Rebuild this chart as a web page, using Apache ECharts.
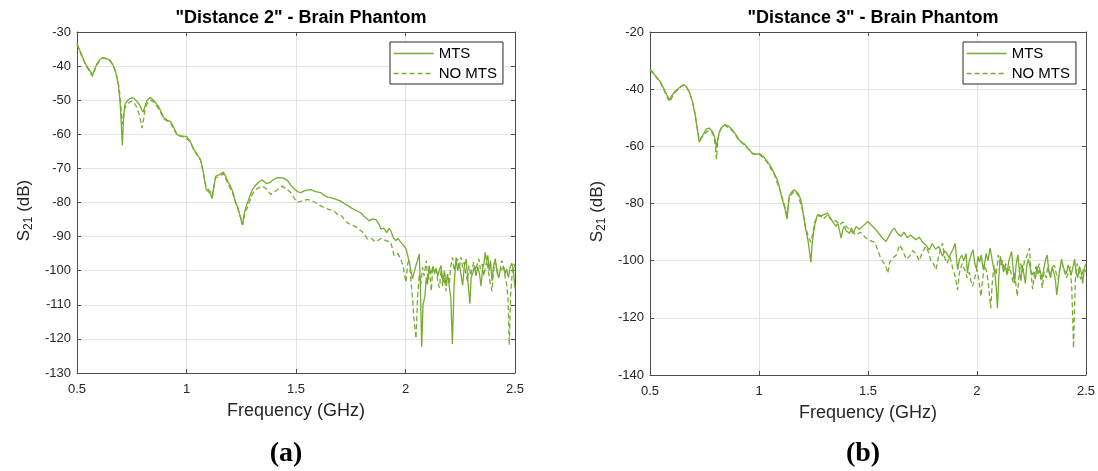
<!DOCTYPE html>
<html>
<head>
<meta charset="utf-8">
<script src="https://cdn.jsdelivr.net/npm/echarts@6/dist/echarts.min.js"></script>
<style>html,body{margin:0;padding:0;background:#fff}#c{width:1098px;height:471px}</style>
</head>
<body>
<div id="c"></div>
<script>
// ---------- data (frequency GHz, S21 dB) ----------
const titles = ['"Distance 2" - Brain Phantom', '"Distance 3" - Brain Phantom'];
const seriesNames = ['MTS', 'NO MTS'];
const panelLabels = ['a', 'b'];
const xTicks = [0.5, 2.5, 0.5];           // min, max, interval
const leftYTicks = [-130, -30, 10];
const rightYTicks = [-140, -20, 20];

const leftMTS = [
[0.50,-33.4],[0.52,-36.5],[0.54,-39.5],[0.56,-41.5],[0.571,-42.6],[0.58,-41.0],[0.59,-39.5],[0.605,-38.0],[0.619,-37.5],[0.635,-37.8],
[0.652,-38.3],[0.665,-39.8],[0.675,-41.2],[0.683,-43.5],[0.69,-46.0],[0.697,-51],[0.703,-58],[0.707,-63.3],[0.712,-56],[0.717,-52],
[0.721,-50.9],[0.735,-49.8],[0.748,-49.3],[0.759,-49.4],[0.772,-50.2],[0.786,-51.4],[0.795,-52.8],[0.802,-53.5],[0.81,-51.8],[0.82,-50.0],
[0.835,-49.2],[0.85,-50.0],[0.862,-51.0],[0.873,-51.9],[0.885,-53.5],[0.895,-55.0],[0.904,-55.5],[0.915,-56.0],[0.927,-56.2],[0.94,-57.8],
[0.957,-60.1],[0.975,-60.5],[0.99,-60.6],[1.0,-60.6],[1.015,-61.8],[1.034,-64.5],[1.05,-66.0],[1.064,-67.4],[1.072,-69.5],[1.079,-72.3],
[1.085,-74.5],[1.09,-76.2],[1.10,-76.8],[1.11,-77.5],[1.117,-78.9],[1.125,-75.5],[1.133,-72.3],[1.145,-72.0],[1.158,-71.5],[1.168,-71.1],
[1.18,-72.5],[1.19,-74.0],[1.201,-75.2],[1.212,-77.0],[1.224,-80.0],[1.235,-81.5],[1.245,-84.0],[1.255,-86.6],[1.262,-84.0],[1.27,-81.5],
[1.278,-81.0],[1.29,-78.0],[1.301,-76.2],[1.315,-75.0],[1.33,-74.0],[1.346,-73.4],[1.356,-74.0],[1.366,-74.4],[1.38,-74.2],[1.395,-73.4],
[1.415,-72.7],[1.44,-72.8],[1.461,-73.5],[1.476,-74.9],[1.49,-75.8],[1.506,-76.8],[1.522,-77.1],[1.54,-76.5],[1.555,-76.3],[1.567,-76.2],
[1.59,-76.8],[1.613,-77.1],[1.63,-78.0],[1.645,-78.4],[1.659,-78.6],[1.68,-79.0],[1.704,-79.6],[1.725,-80.5],[1.74,-81.0],[1.75,-81.5],
[1.77,-82.2],[1.796,-83.0],[1.81,-84.0],[1.822,-84.6],[1.834,-85.4],[1.85,-84.8],[1.865,-85.0],[1.872,-84.9],[1.88,-86.5],[1.888,-87.8],
[1.90,-87.5],[1.915,-88.8],[1.925,-87.6],[1.933,-88.3],[1.945,-90.5],[1.956,-91.2],[1.965,-90.5],[1.979,-91.7],[1.99,-92.5],[2.002,-93.6],
[2.01,-95.5],[2.017,-95.1],[2.025,-100.0],[2.032,-102.4],[2.045,-99.0],[2.055,-97.0],[2.063,-95.1],[2.068,-105.0],[2.074,-122.3],[2.08,-110.0],
[2.089,-107.3],[2.095,-102.0],[2.10,-104.0],[2.108,-98.5],[2.115,-101.0],[2.125,-99.0],[2.132,-100.5],[2.139,-99.5],[2.148,-101.5],[2.155,-99.8],
[2.162,-98.5],[2.17,-103.0],[2.178,-100.0],[2.185,-104.3],[2.192,-101.0],[2.20,-100.5],[2.207,-108.0],[2.214,-121.5],[2.222,-104.0],[2.231,-96.1],
[2.238,-100.0],[2.245,-98.0],[2.253,-101.0],[2.261,-104.3],[2.268,-99.0],[2.277,-96.6],[2.285,-103.0],[2.294,-109.7],[2.30,-102.0],[2.308,-100.5],
[2.315,-98.5],[2.322,-101.5],[2.33,-98.8],[2.338,-101.0],[2.345,-104.5],[2.352,-99.5],[2.358,-98.0],[2.364,-94.6],[2.37,-97.0],[2.376,-95.5],
[2.382,-100.0],[2.388,-97.0],[2.395,-103.0],[2.402,-98.5],[2.41,-96.5],[2.418,-100.5],[2.425,-102.0],[2.432,-100.0],[2.44,-100.5],[2.448,-99.0],
[2.455,-101.0],[2.462,-99.5],[2.47,-102.0],[2.478,-99.0],[2.485,-97.8],[2.492,-99.5],[2.50,-105.3]
];

const leftNoMTS = [
[0.50,-33.6],[0.52,-36.8],[0.54,-39.8],[0.56,-41.8],[0.571,-43.0],[0.58,-41.3],[0.59,-39.8],[0.605,-38.2],[0.619,-37.6],[0.635,-37.9],
[0.652,-38.5],[0.665,-40.0],[0.675,-41.5],[0.683,-43.5],[0.69,-45.5],[0.697,-49],[0.703,-54],[0.707,-57.0],[0.712,-55],[0.717,-53],
[0.721,-52.0],[0.735,-50.8],[0.748,-50.3],[0.759,-50.5],[0.772,-52.0],[0.786,-54.5],[0.792,-56.5],[0.797,-58.2],[0.803,-56.0],[0.81,-53.0],
[0.82,-51.0],[0.835,-50.0],[0.85,-50.5],[0.862,-51.5],[0.873,-52.5],[0.885,-54.0],[0.895,-55.5],[0.904,-56.0],[0.927,-56.5],[0.957,-60.3],
[0.99,-60.8],[1.015,-62.0],[1.034,-64.7],[1.064,-67.6],[1.079,-72.0],[1.09,-75.5],[1.11,-77.0],[1.117,-78.0],[1.125,-75.0],[1.133,-72.8],
[1.158,-72.0],[1.168,-71.5],[1.19,-74.5],[1.212,-77.5],[1.235,-82.0],[1.25,-85.0],[1.258,-86.5],[1.266,-83.0],[1.278,-81.5],[1.301,-77.5],
[1.32,-76.0],[1.346,-75.2],[1.365,-76.0],[1.384,-77.6],[1.40,-77.0],[1.438,-75.2],[1.455,-76.0],[1.476,-77.1],[1.49,-78.5],[1.506,-80.0],
[1.53,-79.5],[1.552,-79.1],[1.575,-79.5],[1.60,-80.5],[1.628,-81.5],[1.65,-82.0],[1.674,-82.5],[1.69,-83.5],[1.71,-84.0],[1.72,-85.0],
[1.735,-85.9],[1.75,-86.5],[1.77,-87.0],[1.796,-88.3],[1.81,-89.0],[1.826,-90.7],[1.845,-90.5],[1.86,-91.5],[1.872,-91.2],[1.89,-90.5],
[1.91,-91.2],[1.933,-91.7],[1.948,-95.6],[1.965,-95.0],[1.979,-96.6],[1.99,-99],[2.002,-103.4],[2.01,-98],[2.017,-96.6],[2.025,-103],
[2.032,-108],[2.037,-113.1],[2.048,-119.9],[2.055,-108],[2.063,-101],[2.07,-104],[2.078,-99],[2.085,-101.5],[2.095,-97.0],[2.102,-103],
[2.11,-100.0],[2.118,-106],[2.125,-98.5],[2.132,-101],[2.14,-99],[2.148,-103.5],[2.155,-105],[2.162,-100],[2.17,-104.5],[2.178,-102],
[2.185,-106.0],[2.192,-101],[2.20,-104],[2.207,-98.5],[2.215,-96.1],[2.222,-100],[2.23,-98.0],[2.238,-96.5],[2.245,-99.5],[2.253,-96.0],
[2.261,-99],[2.268,-97.5],[2.275,-101],[2.283,-103],[2.29,-98.5],[2.298,-101.5],[2.305,-99.0],[2.312,-97.5],[2.32,-100],[2.328,-98.0],
[2.335,-96.5],[2.342,-99.5],[2.35,-98.0],[2.358,-101.5],[2.365,-99.0],[2.372,-97.0],[2.38,-101],[2.388,-104.0],[2.395,-106],[2.402,-100],
[2.41,-97.5],[2.418,-99.5],[2.425,-102],[2.432,-100],[2.44,-97.0],[2.448,-99],[2.455,-102],[2.462,-104.0],[2.468,-108],[2.474,-121.8],
[2.48,-107],[2.488,-100],[2.495,-98],[2.50,-99.0]
];

const rightMTS = [
[0.50,-33.0],[0.52,-34.8],[0.546,-37.3],[0.565,-40.0],[0.58,-42.5],[0.591,-43.7],[0.60,-42.3],[0.614,-40.8],[0.63,-39.8],[0.645,-38.8],
[0.657,-38.4],[0.67,-39.5],[0.683,-41.4],[0.695,-44.5],[0.706,-48.4],[0.716,-53.5],[0.726,-58.6],[0.735,-57.0],[0.744,-55.9],[0.758,-54.0],
[0.771,-53.6],[0.783,-54.5],[0.793,-55.9],[0.80,-58.0],[0.805,-60.6],[0.811,-57.5],[0.817,-55.4],[0.83,-53.2],[0.844,-52.4],[0.86,-53.0],
[0.878,-54.2],[0.895,-56.0],[0.909,-57.7],[0.925,-58.8],[0.936,-59.4],[0.953,-61.0],[0.97,-62.4],[0.985,-62.8],[1.003,-62.6],[1.02,-63.5],
[1.035,-65.0],[1.054,-67.0],[1.07,-69.5],[1.084,-71.7],[1.096,-75.0],[1.107,-78.7],[1.118,-81.5],[1.129,-85.5],[1.138,-77.5],[1.15,-76.0],
[1.162,-75.2],[1.169,-75.0],[1.18,-76.5],[1.192,-78.7],[1.20,-82.0],[1.207,-85.7],[1.215,-89.5],[1.225,-93.0],[1.232,-97.0],[1.238,-100.6],
[1.243,-95.0],[1.248,-91.5],[1.256,-87.5],[1.268,-83.9],[1.28,-84.5],[1.295,-84.0],[1.314,-83.4],[1.323,-84.5],[1.335,-86.0],[1.353,-88.0],
[1.362,-87.0],[1.377,-92.1],[1.385,-89.0],[1.392,-88.0],[1.40,-89.5],[1.415,-90.4],[1.425,-88.5],[1.432,-90.5],[1.446,-88.0],[1.46,-89.0],
[1.475,-88.0],[1.49,-87.0],[1.499,-86.3],[1.515,-87.5],[1.537,-89.2],[1.55,-90.5],[1.565,-92.0],[1.583,-93.3],[1.595,-91.5],[1.61,-89.5],
[1.621,-88.6],[1.635,-90.5],[1.652,-91.5],[1.665,-90.0],[1.68,-92.0],[1.695,-91.0],[1.72,-92.7],[1.735,-91.8],[1.75,-93.5],[1.765,-94.5],
[1.781,-96.2],[1.795,-94.0],[1.81,-96.0],[1.825,-95.0],[1.842,-98.5],[1.852,-96.5],[1.862,-97.5],[1.872,-99.0],[1.88,-97.5],[1.89,-96.0],
[1.90,-93.9],[1.906,-99.0],[1.911,-103.2],[1.92,-99.5],[1.93,-98.0],[1.94,-100.0],[1.95,-97.5],[1.956,-104.4],[1.965,-100.0],[1.975,-97.5],
[1.982,-96.2],[1.99,-101.0],[1.998,-103.0],[2.005,-98.5],[2.012,-100.5],[2.02,-98.0],[2.028,-103.0],[2.035,-101.0],[2.042,-97.5],[2.05,-100.0],
[2.06,-95.6],[2.068,-99.0],[2.075,-102.0],[2.082,-104.5],[2.088,-109.0],[2.094,-116.6],[2.10,-106.0],[2.107,-98.5],[2.115,-101.0],[2.122,-104.0],
[2.13,-102.0],[2.138,-105.0],[2.145,-100.5],[2.152,-98.5],[2.159,-96.8],[2.166,-103.0],[2.172,-108.0],[2.18,-101.0],[2.188,-98.0],[2.195,-104.0],
[2.202,-107.0],[2.208,-101.5],[2.215,-104.5],[2.222,-108.0],[2.228,-102.0],[2.236,-99.5],[2.245,-103.0],[2.252,-105.0],[2.26,-104.0],[2.268,-106.5],
[2.275,-102.0],[2.282,-104.5],[2.29,-103.5],[2.298,-106.5],[2.306,-103.0],[2.315,-99.5],[2.322,-98.0],[2.33,-104.0],[2.338,-106.0],[2.345,-102.0],
[2.352,-104.0],[2.36,-107.0],[2.366,-112.0],[2.372,-108.0],[2.38,-103.0],[2.388,-99.5],[2.395,-102.0],[2.402,-103.5],[2.41,-104.5],[2.418,-101.5],
[2.425,-103.0],[2.432,-105.0],[2.44,-102.5],[2.448,-99.5],[2.455,-104.0],[2.462,-106.0],[2.47,-102.0],[2.478,-104.0],[2.485,-108.0],[2.492,-103.0],
[2.50,-101.0]
];

const rightNoMTS = [
[0.50,-33.2],[0.52,-35.0],[0.546,-37.5],[0.565,-40.5],[0.58,-43.0],[0.591,-44.5],[0.60,-43.0],[0.614,-41.2],[0.63,-40.0],[0.645,-39.0],
[0.657,-38.6],[0.67,-39.6],[0.683,-41.5],[0.695,-44.5],[0.706,-48.5],[0.716,-53.0],[0.726,-58.0],[0.735,-57.5],[0.744,-56.5],[0.758,-55.0],
[0.771,-54.5],[0.783,-55.0],[0.793,-56.5],[0.80,-60.0],[0.805,-64.5],[0.811,-58.5],[0.817,-55.0],[0.83,-53.0],[0.844,-52.6],[0.878,-54.5],
[0.909,-58.0],[0.936,-59.7],[0.97,-62.6],[1.003,-62.9],[1.035,-65.3],[1.07,-69.8],[1.096,-75.3],[1.118,-81.0],[1.129,-84.0],[1.138,-78.0],
[1.162,-75.6],[1.18,-77.0],[1.2,-82.5],[1.215,-88.5],[1.228,-92.0],[1.238,-93.5],[1.248,-90.0],[1.256,-86.5],[1.268,-84.5],[1.28,-84.0],
[1.295,-85.5],[1.314,-84.0],[1.323,-84.0],[1.34,-86.5],[1.353,-86.0],[1.369,-87.5],[1.385,-86.5],[1.40,-88.0],[1.42,-89.5],[1.446,-91.0],
[1.465,-90.0],[1.491,-92.1],[1.51,-93.0],[1.53,-93.5],[1.545,-96.2],[1.555,-98.5],[1.568,-100.3],[1.58,-101.5],[1.591,-104.4],[1.60,-100.5],
[1.615,-99.0],[1.63,-98.0],[1.645,-94.5],[1.66,-96.5],[1.675,-99.5],[1.69,-98.5],[1.705,-96.5],[1.72,-97.5],[1.735,-100.0],[1.75,-97.0],
[1.766,-95.0],[1.78,-97.5],[1.79,-100.5],[1.80,-101.0],[1.812,-103.2],[1.825,-98.0],[1.842,-93.9],[1.852,-99.0],[1.862,-101.0],[1.875,-98.5],
[1.89,-103.0],[1.90,-105.5],[1.911,-110.2],[1.92,-104.0],[1.932,-101.0],[1.945,-103.5],[1.955,-106.0],[1.965,-104.0],[1.972,-107.0],[1.98,-109.0],
[1.99,-106.0],[2.00,-103.0],[2.01,-107.5],[2.018,-112.5],[2.027,-106.0],[2.035,-101.5],[2.045,-104.0],[2.052,-108.0],[2.063,-116.6],[2.07,-108.0],
[2.078,-101.5],[2.088,-105.0],[2.098,-98.0],[2.108,-102.0],[2.118,-100.0],[2.125,-103.0],[2.132,-101.0],[2.142,-104.5],[2.15,-102.0],[2.158,-105.0],
[2.165,-107.5],[2.172,-104.0],[2.185,-112.5],[2.192,-106.0],[2.20,-101.0],[2.21,-104.0],[2.218,-100.0],[2.228,-98.5],[2.241,-95.6],[2.248,-104.0],
[2.255,-110.0],[2.262,-106.0],[2.27,-102.0],[2.278,-104.5],[2.285,-101.0],[2.292,-106.0],[2.30,-109.5],[2.308,-104.0],[2.318,-106.0],[2.325,-102.0],
[2.335,-105.0],[2.345,-103.0],[2.355,-101.5],[2.362,-104.0],[2.372,-106.5],[2.38,-103.0],[2.39,-101.0],[2.40,-103.5],[2.41,-106.0],[2.418,-104.5],
[2.428,-102.0],[2.435,-110.0],[2.44,-122.0],[2.443,-130.6],[2.447,-118.0],[2.452,-106.0],[2.46,-101.0],[2.468,-103.5],[2.475,-106.5],[2.482,-105.0],
[2.49,-102.5],[2.50,-104.0]
];

// ---------- chart ----------
const GREEN = '#77AC30';
const AX = '#4d4d4d';
const TXT = '#262626';
const FONT = '"Liberation Sans", Arial, Helvetica, sans-serif';

const grids = [
  {left: 77, right: 583, top: 32, bottom: 98},
  {left: 650, right: 11, top: 32, bottom: 96}
];
const yTicks = [leftYTicks, rightYTicks];

const xAxes = [], yAxes = [];
grids.forEach((g, i) => {
  xAxes.push({
    type: 'value', gridIndex: i, position: 'bottom',
    min: xTicks[0], max: xTicks[1], interval: xTicks[2],
    name: 'Frequency (GHz)', nameLocation: 'middle', nameGap: 29,
    nameTextStyle: {fontFamily: FONT, fontSize: 18, color: TXT},
    axisLine: {show: true, lineStyle: {color: AX, width: 1}},
    axisTick: {show: true, inside: true, length: 4, lineStyle: {color: AX}},
    axisLabel: {fontFamily: FONT, fontSize: 13, color: TXT, margin: 10},
    splitLine: {show: true, lineStyle: {color: '#e3e3e3', width: 1}}
  });
  xAxes.push({
    type: 'value', gridIndex: i, position: 'top',
    min: xTicks[0], max: xTicks[1], interval: xTicks[2],
    axisLine: {show: true, lineStyle: {color: AX, width: 1}},
    axisTick: {show: true, inside: true, length: 4, lineStyle: {color: AX}},
    axisLabel: {show: false}, splitLine: {show: false}
  });
  const yt = yTicks[i];
  yAxes.push({
    type: 'value', gridIndex: i, position: 'left',
    min: yt[0], max: yt[1], interval: yt[2],
    name: 'S{sub|21} (dB)', nameLocation: 'middle', nameGap: 42, nameRotate: 90,
    nameTextStyle: {fontFamily: FONT, fontSize: 17, color: TXT, padding: [0, 16, 0, 0],
      rich: {sub: {fontFamily: FONT, fontSize: 12, color: TXT, padding: [10, 0, 0, 0]}}},
    axisLine: {show: true, lineStyle: {color: AX, width: 1}},
    axisTick: {show: true, inside: true, length: 4, lineStyle: {color: AX}},
    axisLabel: {fontFamily: FONT, fontSize: 13, color: TXT, margin: 6},
    splitLine: {show: true, lineStyle: {color: '#e3e3e3', width: 1}}
  });
  yAxes.push({
    type: 'value', gridIndex: i, position: 'right',
    min: yt[0], max: yt[1], interval: yt[2],
    axisLine: {show: true, lineStyle: {color: AX, width: 1}},
    axisTick: {show: true, inside: true, length: 4, lineStyle: {color: AX}},
    axisLabel: {show: false}, splitLine: {show: false}
  });
});

const panelData = [[leftMTS, leftNoMTS], [rightMTS, rightNoMTS]];
const series = [];
panelData.forEach((pair, i) => {
  pair.forEach((d, k) => {
    series.push({
      type: 'line', name: seriesNames[k], data: d,
      xAxisIndex: i * 2, yAxisIndex: i * 2,
      showSymbol: false, symbol: 'none', animation: false, silent: true,
      lineStyle: {color: GREEN, width: 1.3, type: k === 0 ? 'solid' : [5, 3]},
      itemStyle: {color: GREEN}
    });
  });
});

const legendBase = {
  orient: 'vertical', data: seriesNames, top: 42,
  itemWidth: 40, itemHeight: 14, itemGap: 5,
  padding: [4, 6, 3, 3],
  backgroundColor: '#fff', borderColor: '#262626', borderWidth: 1, borderRadius: 0,
  itemStyle: {opacity: 0},
  lineStyle: {width: 1.3},
  textStyle: {fontFamily: FONT, fontSize: 15, color: '#000'},
  selectedMode: false
};

const LBL_FONT = '"Liberation Serif", "DejaVu Serif", serif';
const option = {
  backgroundColor: '#fff',
  animation: false,
  title: [
    {text: titles[0], left: 296, top: 4, textAlign: 'center',
     textStyle: {fontFamily: FONT, fontSize: 18, fontWeight: 'bold', color: '#000'}},
    {text: titles[1], left: 868, top: 4, textAlign: 'center',
     textStyle: {fontFamily: FONT, fontSize: 18, fontWeight: 'bold', color: '#000'}},
    {text: '({b|' + panelLabels[0] + '})', left: 281, top: 435, textAlign: 'center',
     textStyle: {fontFamily: LBL_FONT, fontSize: 28, color: '#000',
       rich: {b: {fontFamily: LBL_FONT, fontSize: 28, fontWeight: 'bold', color: '#000'}}}},
    {text: '({b|' + panelLabels[1] + '})', left: 858, top: 435, textAlign: 'center',
     textStyle: {fontFamily: LBL_FONT, fontSize: 28, color: '#000',
       rich: {b: {fontFamily: LBL_FONT, fontSize: 28, fontWeight: 'bold', color: '#000'}}}}
  ],
  legend: [
    Object.assign({}, legendBase, {left: 390}),
    Object.assign({}, legendBase, {left: 963})
  ],
  grid: grids,
  xAxis: xAxes,
  yAxis: yAxes,
  series: series
};

const chart = echarts.init(document.getElementById('c'), null, {renderer: 'canvas'});
chart.setOption(option);
</script>
</body>
</html>
